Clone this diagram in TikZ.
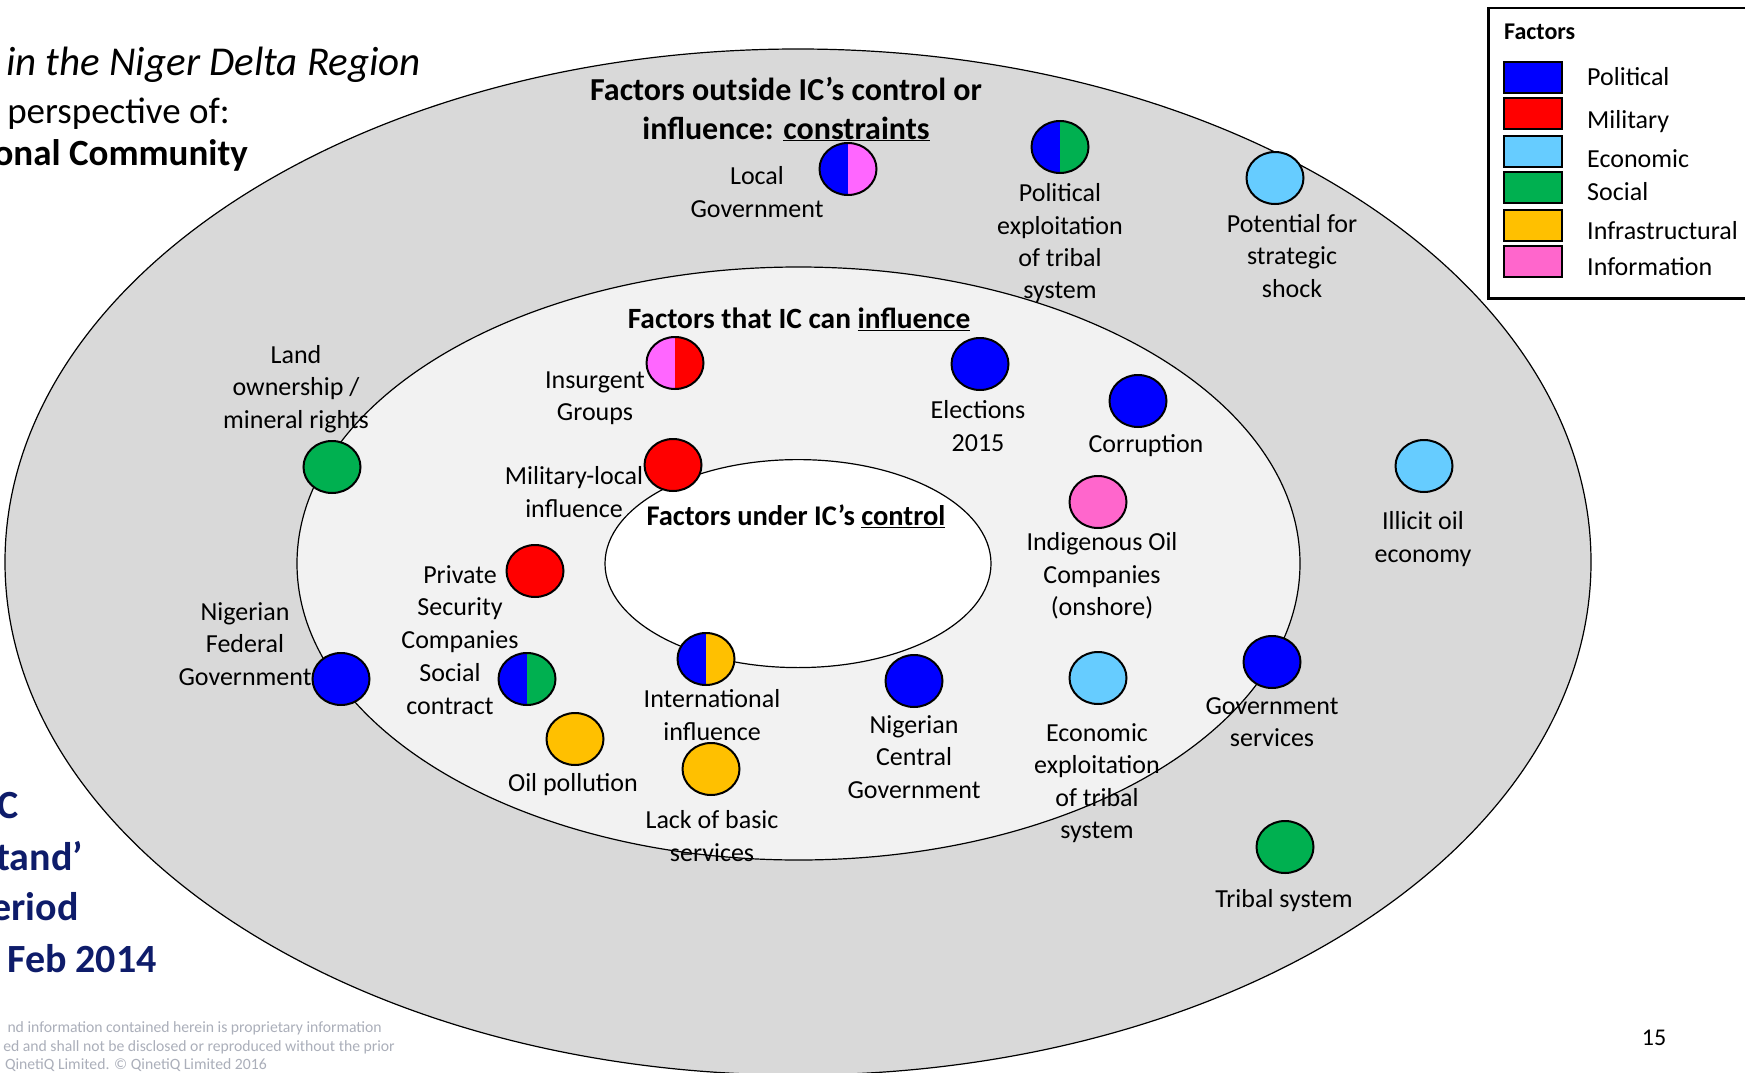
\documentclass[tikz,border=0pt]{standalone}
\usepackage{fontspec}
\setmainfont{Carlito}
\usetikzlibrary{shapes.geometric}

\definecolor{polblue}{HTML}{0000FF}
\definecolor{milred}{HTML}{FF0000}
\definecolor{ecoblue}{HTML}{66CCFF}
\definecolor{socgreen}{HTML}{00B050}
\definecolor{infyellow}{HTML}{FFC000}
\definecolor{infopink}{HTML}{FF66CC}
\definecolor{violetpink}{HTML}{FF66FF}
\definecolor{outerfill}{HTML}{D9D9D9}
\definecolor{midfill}{HTML}{F2F2F2}
\definecolor{navy}{HTML}{0E1C6A}
\definecolor{footgray}{HTML}{ABAFBA}

\begin{document}
\begin{tikzpicture}[x=1pt,y=-1pt,
  ring/.style={ellipse, draw, line width=1.2pt, inner sep=0pt},
  factor/.style={ellipse, draw, line width=2pt, minimum width=57pt,
    minimum height=52pt, inner sep=0pt},
  halves/.style 2 args={factor, path picture={
    \fill[#1] (path picture bounding box.south west) rectangle
      (path picture bounding box.north);
    \fill[#2] (path picture bounding box.south) rectangle
      (path picture bounding box.north east);}},
  lbl/.style={align=center, inner sep=0pt,
    font=\fontsize{26}{32.3}\selectfont},
  zonetitle/.style={align=center, inner sep=0pt,
    font=\fontsize{#1}{35}\selectfont\bfseries},
  swatch/.style={draw, line width=2pt, minimum width=58pt,
    minimum height=31pt, inner sep=0pt},
  keytext/.style={anchor=base west, inner sep=0pt,
    font=\fontsize{26}{32}\selectfont},
  headline/.style={anchor=base east, inner sep=0pt},
  navyline/.style={anchor=base east, inner sep=0pt, text=navy,
    font=\fontsize{40}{48}\selectfont\bfseries},
  footline/.style={anchor=base east, inner sep=0pt, text=footgray,
    font=\fontsize{15.7}{18.5}\selectfont}
]
% page
\path[fill=white, use as bounding box] (0,0) rectangle (1745,1073);

% three nested zones
\node[ring, fill=outerfill, minimum width=1586pt, minimum height=1026pt] (outer) at (798,562) {};
\node[ring, fill=midfill, minimum width=1003pt, minimum height=593pt] (middle) at (798.5,563.5) {};
\node[ring, fill=white, minimum width=386pt, minimum height=208pt] (inner) at (798,563.6) {};

% zone titles
\node[align=center, inner sep=0pt, font=\fontsize{32}{39}\selectfont\bfseries] (touter) at (786,109)
  {Factors outside IC’s control or\\influence: \underline{constraints}};
\node[zonetitle=29.4] (tmiddle) at (799,319) {Factors that IC can \underline{influence}};
\node[zonetitle=28.5] (tinner) at (796,516) {Factors under IC’s \underline{control}};

% factor labels
\node[lbl] (lLocal)   at (757,192)  {Local\\Government};
\node[lbl] (lPolexp)  at (1060,243.5) {Political\\exploitation\\of tribal\\system};
\node[lbl] (lShock)   at (1292,256) {Potential for\\strategic\\shock};
\node[lbl] (lLand)    at (296,389)  {Land\\ownership /\\mineral rights};
\node[lbl] (lInsurg)  at (595,398.5){Insurgent\\Groups};
\node[lbl] (lElect)   at (978,426)  {Elections\\2015};
\node[lbl] (lCorr)    at (1146,446) {Corruption};
\node[lbl] (lMil)     at (574,492)  {Military-local\\influence};
\node[lbl] (lIllicit) at (1423,539) {Illicit oil\\economy};
\node[lbl] (lIndig)   at (1102,576) {Indigenous Oil\\Companies\\(onshore)};
\node[lbl] (lPriv)    at (460,609)  {Private\\Security\\Companies};
\node[lbl] (lSocial)  at (450,689)  {Social\\contract};
\node[lbl] (lFed)     at (245,644)  {Nigerian\\Federal\\Government};
\node[lbl] (lIntl)    at (712,715)  {International\\influence};
\node[lbl] (lCentral) at (914,757)  {Nigerian\\Central\\Government};
\node[lbl] (lEcoexp)  at (1097,783) {Economic\\exploitation\\of tribal\\system};
\node[lbl] (lGovserv) at (1272,722) {Government\\services};
\node[lbl] (lOilpol)  at (573,785)  {Oil pollution};
\node[lbl] (lLack)    at (712,836)  {Lack of basic\\services};
\node[lbl] (lTribal)  at (1284,901) {Tribal system};

% factor markers
\node[halves={polblue}{violetpink}] (cLocal)  at (848,169) {};
\node[halves={polblue}{socgreen}]   (cPolexp) at (1060,147) {};
\node[factor, fill=ecoblue]         (cShock)  at (1275,178) {};
\node[factor, fill=socgreen]        (cLand)   at (332,467) {};
\node[halves={violetpink}{milred}]  (cInsurg) at (675,363) {};
\node[factor, fill=polblue]         (cElect)  at (980,364) {};
\node[factor, fill=polblue]         (cCorr)   at (1138,401) {};
\node[factor, fill=milred]          (cMil)    at (673,465) {};
\node[factor, fill=ecoblue]         (cIllicit) at (1424,466) {};
\node[factor, fill=infopink]        (cIndig)  at (1098,502) {};
\node[factor, fill=milred]          (cPriv)   at (535,571) {};
\node[halves={polblue}{socgreen}]   (cSocial) at (527,679) {};
\node[halves={polblue}{infyellow}]  (cIntl)   at (706,659) {};
\node[factor, fill=polblue]         (cFed)    at (341,679) {};
\node[factor, fill=polblue]         (cCentral) at (914,681) {};
\node[factor, fill=ecoblue]         (cEcoexp) at (1098,678) {};
\node[factor, fill=polblue]         (cGovserv) at (1272,662) {};
\node[factor, fill=infyellow]       (cOilpol) at (575,739) {};
\node[factor, fill=infyellow]       (cLack)   at (711,769) {};
\node[factor, fill=socgreen]        (cTribal) at (1285,847) {};

% legend
\node[draw, line width=2.5pt, anchor=north west, minimum width=300pt,
  minimum height=290pt, inner sep=0pt] (legend) at (1487,7) {};
\node[anchor=base west, inner sep=0pt, font=\fontsize{24}{28}\selectfont\bfseries]
  (keyhead) at (1504,39.3) {Factors};
\node[swatch, fill=polblue]    (sw1) at (1533,77.5) {};
\node[swatch, fill=milred]     (sw2) at (1533,113.5) {};
\node[swatch, fill=ecoblue]    (sw3) at (1533,151.5) {};
\node[swatch, fill=socgreen]   (sw4) at (1533,187) {};
\node[swatch, fill=infyellow]  (sw5) at (1533,225) {};
\node[swatch, fill=infopink]   (sw6) at (1533,261) {};
\node[keytext] (k1) at (1587,85)  {Political};
\node[keytext] (k2) at (1587,128) {Military};
\node[keytext] (k3) at (1587,167) {Economic};
\node[keytext] (k4) at (1587,200) {Social};
\node[keytext] (k5) at (1587,239) {Infrastructural};
\node[keytext] (k6) at (1587,275) {Information};

% heading text at the left
\node[headline, font=\fontsize{41}{48}\selectfont\itshape] (h1) at (421,76) {in the Niger Delta Region};
\node[headline, font=\fontsize{37}{44}\selectfont] (h2) at (230,123) {perspective of:};
\node[headline, font=\fontsize{37}{44}\selectfont\bfseries] (h3) at (248,165) {onal Community};

% period text
\node[navyline] (n1) at (19,818) {C};
\node[navyline] (n2) at (83,870) {tand’};
\node[navyline] (n3) at (79,920) {eriod};
\node[navyline] (n4) at (157,972) {Feb 2014};

% footer
\node[footline] (f1) at (382,1032) {nd information contained herein is proprietary information};
\node[footline] (f2) at (395,1051) {ed and shall not be disclosed or reproduced without the prior};
\node[footline] (f3) at (267,1069) {QinetiQ Limited. © QinetiQ Limited 2016};
\node[inner sep=0pt, font=\fontsize{24}{28}\selectfont] (pageno) at (1654,1038) {15};
\end{tikzpicture}
\end{document}
